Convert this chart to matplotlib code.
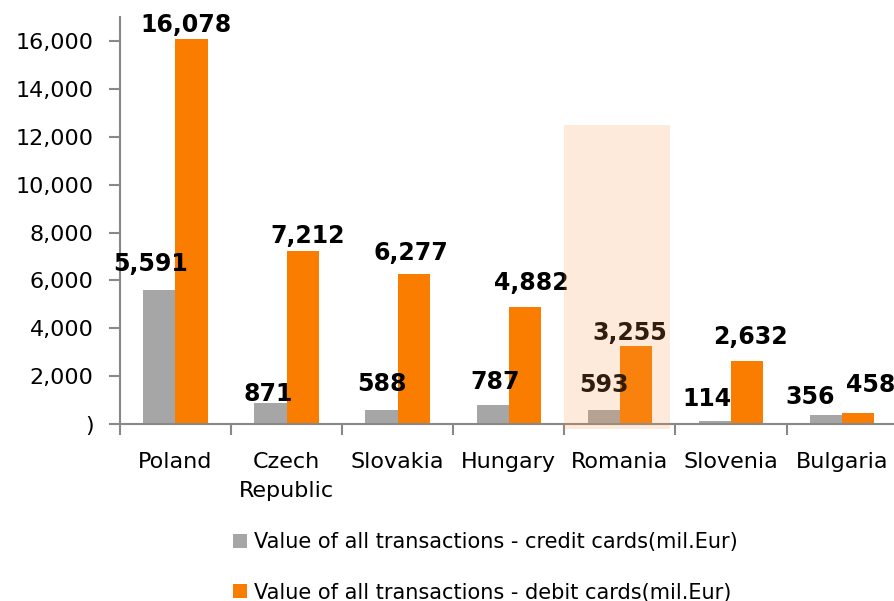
import matplotlib
matplotlib.use("Agg")
import matplotlib.pyplot as plt
from matplotlib.patches import Rectangle, Patch
import numpy as np

countries = ["Poland", "Czech\nRepublic", "Slovakia", "Hungary", "Romania", "Slovenia", "Bulgaria"]
credit = [5591, 871, 588, 787, 593, 114, 356]
debit = [16078, 7212, 6277, 4882, 3255, 2632, 458]
yticks = [0, 2000, 4000, 6000, 8000, 10000, 12000, 14000, 16000]
ytick_labels = [")", "2,000", "4,000", "6,000", "8,000", "10,000", "12,000", "14,000", "16,000"]
series_names = ["Value of all transactions - credit cards(mil.Eur)",
                "Value of all transactions - debit cards(mil.Eur)"]
highlight_index = 4
highlight_top = 12500

# label nudges (pixels): horizontal shift and gap above bar top (style only)
credit_dx = [-9, -2, 0, 2, 0, -8, -16]
credit_gap = [19, 2, 19, 16, 18, 15, 11]
debit_dx = [-6, 5, -3, 6, -6, 3, 12]
debit_gap = [7, 8, 14, 17, 6, 17, 21]

GRAY = "#A6A6A6"
ORANGE = "#FA7D00"

plt.rcParams['font.family'] = ['DejaVu Sans']
fig = plt.figure(figsize=(8.95, 6.01), dpi=100)
ax = fig.add_axes([0.134, 0.2945, 0.869, 0.677])

x = np.arange(len(countries))
w = 0.29
b1 = ax.bar(x - w / 2, credit, width=w, color=GRAY)
b2 = ax.bar(x + w / 2, debit, width=w, color=ORANGE)

for bars, vals, dxs, gaps in ((b1, credit, credit_dx, credit_gap), (b2, debit, debit_dx, debit_gap)):
    for rect, v, dx, gp in zip(bars, vals, dxs, gaps):
        ax.annotate(f"{v:,}", (rect.get_x() + rect.get_width() / 2, rect.get_height()),
                    xytext=(dx, gp), textcoords="offset pixels", ha="center", va="baseline",
                    fontsize=17, fontweight="bold", color="black", annotation_clip=False)

# highlight overlay for Romania
ax.add_patch(Rectangle((highlight_index - 0.5, -200), 0.95, highlight_top + 200,
                       facecolor="#F79646", alpha=0.2, edgecolor="none", zorder=5, clip_on=False))

ax.set_xlim(-0.5, len(countries) - 0.5)
ax.set_ylim(0, 17000)
ax.set_yticks(yticks)
ax.set_yticklabels(ytick_labels, fontsize=16)
ax.set_xticks(x)
ax.set_xticklabels(countries, fontsize=16, linespacing=1.55)
ax.set_xticks(np.arange(-0.5, len(countries), 1.0), minor=True)
ax.tick_params(axis="x", which="major", length=0, pad=20)
ax.tick_params(axis="x", which="minor", length=8, color="#888888", width=1.5, direction="out")
ax.tick_params(axis="y", length=8, color="#888888", width=1.5, direction="out", pad=11)

for s in ("top", "right"):
    ax.spines[s].set_visible(False)
for s in ("left", "bottom"):
    ax.spines[s].set_color("#888888")
    ax.spines[s].set_linewidth(1.5)

handles = [Patch(facecolor=GRAY, edgecolor="none"), Patch(facecolor=ORANGE, edgecolor="none")]
fig.legend(handles, series_names, loc="upper left", bbox_to_anchor=(0.251, 0.128),
           frameon=False, fontsize=15, handlelength=0.65, handleheight=0.65,
           handletextpad=0.35, labelspacing=1.45, borderaxespad=0)

fig.savefig("out.png", dpi=100)
